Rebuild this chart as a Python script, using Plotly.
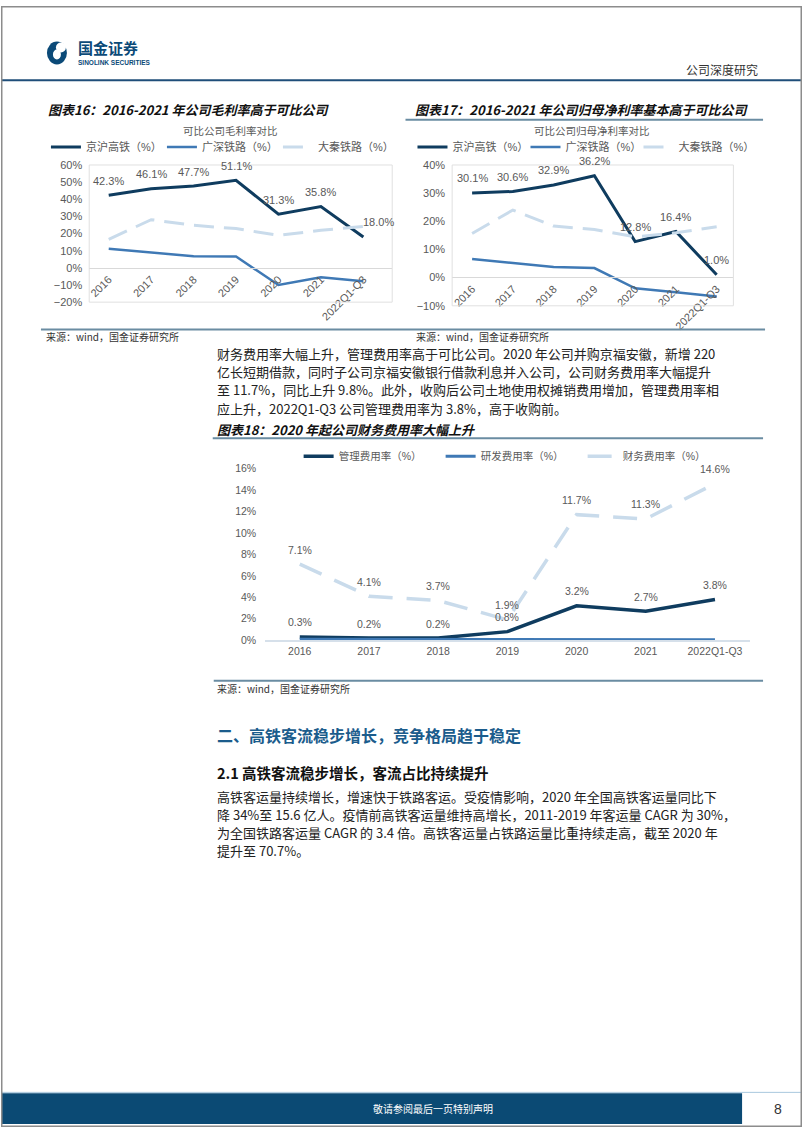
import plotly.graph_objects as go

W, H = 802, 1133
def X(px): return px / W
def Y(py): return 1 - py / H

# ---------------- data ----------------
years = ["2016", "2017", "2018", "2019", "2020", "2021", "2022Q1-Q3"]
# 图表16 毛利率
gm_jinghu = [42.3, 46.1, 47.7, 51.1, 31.3, 35.8, 18.0]
gm_guangshen = [11.1, 8.8, 6.8, 6.6, -10.0, -5.5, -7.8]
gm_daqin = [16.6, 28.1, 24.8, 22.9, 19.0, 21.9, 24.2]
# 图表17 归母净利率
np_jinghu = [30.1, 30.6, 32.9, 36.2, 12.8, 16.4, 1.0]
np_guangshen = [6.6, 5.3, 3.8, 3.4, -3.8, -5.2, -6.7]
np_daqin = [15.7, 24.0, 18.3, 17.1, 14.5, 15.9, 18.1]
# 图表18 费用率
fee_admin = [0.3, 0.2, 0.2, 0.8, 3.2, 2.7, 3.8]
fee_rd = [0.1, 0.1, 0.1, 0.1, 0.1, 0.05, 0.05]
fee_fin = [7.1, 4.1, 3.7, 1.9, 11.7, 11.3, 14.6]

names_rail = ["京沪高铁（%）", "广深铁路（%）", "大秦铁路（%）"]
names_fee = ["管理费用率（%）", "研发费用率（%）", "财务费用率（%）"]

NAVY = "#0f3c5f"
MID = "#3f79b5"
LIGHT = "#c9dbeb"
GRAY = "#595959"
CHART_FONT = "Liberation Sans, Arial, Noto Sans CJK SC"
CJK = "Noto Sans CJK SC"

fig = go.Figure()

def series(xa, ya, vals, name, color, width, dash, legend):
    fig.add_trace(go.Scatter(
        x=years, y=vals, name=name, mode="lines",
        line=dict(color=color, width=width, dash=dash),
        xaxis=xa, yaxis=ya, legend=legend, cliponaxis=False,
        hoverinfo="skip"))

# chart 16
series("x", "y", gm_jinghu, names_rail[0], NAVY, 3, "solid", "legend")
series("x", "y", gm_guangshen, names_rail[1], MID, 2.5, "solid", "legend")
series("x", "y", gm_daqin, names_rail[2], LIGHT, 3, "20px,10px", "legend")
# chart 17
series("x2", "y2", np_jinghu, names_rail[0], NAVY, 3, "solid", "legend2")
series("x2", "y2", np_guangshen, names_rail[1], MID, 2.5, "solid", "legend2")
series("x2", "y2", np_daqin, names_rail[2], LIGHT, 3, "20px,10px", "legend2")
# chart 18
series("x3", "y3", fee_admin, names_fee[0], NAVY, 3.5, "solid", "legend3")
series("x3", "y3", fee_rd, names_fee[1], MID, 3, "solid", "legend3")
series("x3", "y3", fee_fin, names_fee[2], LIGHT, 3.5, "24px,14px", "legend3")

ann = []

def data_labels(xref, yref, vals, size, xshifts=None):
    # category axes: position annotations by category index
    for i, v in enumerate(vals):
        ann.append(dict(x=i, y=v, xref=xref, yref=yref, text=f"{v:.1f}%",
                        showarrow=False, yshift=14.5,
                        xshift=(xshifts[i] if xshifts else 0),
                        font=dict(family=CHART_FONT, size=size, color=GRAY),
                        xanchor="center", yanchor="middle"))

data_labels("x", "y", gm_jinghu, 11, [0, 0, 0, 0, 0, 0, 15])
data_labels("x2", "y2", np_jinghu, 11)
data_labels("x3", "y3", fee_admin, 10.5)
data_labels("x3", "y3", fee_fin, 10.5)

def text(x, y, s, size, color="#222", family=CJK, anchor="left", valign="middle"):
    ann.append(dict(x=X(x), y=Y(y), xref="paper", yref="paper", text=s,
                    showarrow=False, xanchor=anchor, yanchor=valign, align="left",
                    font=dict(family=family, size=size, color=color)))

# header
text(75, 42, "<b>国金证券</b>", 15, "#0b4a78")
text(75, 57.5, "<b>SINOLINK SECURITIES</b>", 6.5, "#0b4a78", "Liberation Sans")
text(760, 64, "公司深度研究", 12, "#333333", CJK, "right")

# chart titles
text(45, 105, "<b><i>图表16：2016-2021 年公司毛利率高于可比公司</i></b>", 13, "#111")
text(413, 105, "<b><i>图表17：2016-2021 年公司归母净利率基本高于可比公司</i></b>", 13, "#111")
text(214, 428, "<b><i>图表18：2020 年起公司财务费用率大幅上升</i></b>", 13, "#111")
text(230, 126, "可比公司毛利率对比", 10.5, GRAY, CJK, "center")
text(591.7, 126, "可比公司归母净利率对比", 10.5, GRAY, CJK, "center")

# sources
src = "来源：wind，国金证券研究所"
text(43, 334, src, 10, "#333")
text(414, 334, src, 10, "#333")
text(214, 690, src, 10, "#333")

# paragraph 1
para1 = [
    "财务费用率大幅上升，管理费用率高于可比公司。2020 年公司并购京福安徽，新增 220",
    "亿长短期借款，同时子公司京福安徽银行借款利息并入公司，公司财务费用率大幅提升",
    "至 11.7%，同比上升 9.8%。此外，收购后公司土地使用权摊销费用增加，管理费用率相",
    "应上升，2022Q1-Q3 公司管理费用率为 3.8%，高于收购前。",
]
for i, s in enumerate(para1):
    text(214, 351.5 + 18.3 * i, s, 13, "#222")

# section headings
text(214, 737, "<b>二、高铁客流稳步增长，竞争格局趋于稳定</b>", 16, "#1b5c8c")
text(214, 775, "<b>2.1 高铁客流稳步增长，客流占比持续提升</b>", 14.5, "#111")

para2 = [
    "高铁客运量持续增长，增速快于铁路客运。受疫情影响，2020 年全国高铁客运量同比下",
    "降 34%至 15.6 亿人。疫情前高铁客运量维持高增长，2011-2019 年客运量 CAGR 为 30%，",
    "为全国铁路客运量 CAGR 的 3.4 倍。高铁客运量占铁路运量比重持续走高，截至 2020 年",
    "提升至 70.7%。",
]
for i, s in enumerate(para2):
    text(214, 798.5 + 18.3 * i, s, 13, "#222")

# footer
text(370, 1114.5, "敬请参阅最后一页特别声明", 10, "#ffffff")
text(778, 1114.5, "8", 14, "#333", "Liberation Sans", "center")

shapes = []
def hline(y, x0, x1, color, width):
    shapes.append(dict(type="line", xref="paper", yref="paper", x0=X(x0), x1=X(x1),
                       y0=Y(y), y1=Y(y), line=dict(color=color, width=width)))

hline(75, 0, 802, "#1f4e79", 2)
hline(115, 405, 763, "#6a8ca2", 2)
hline(327, 40, 765, "#6a8ca2", 2)
hline(437, 212, 763, "#6a8ca2", 2)
hline(682, 213, 763, "#6a8ca2", 2)
hline(1098, 0, 802, "#a9c8de", 1)
# plot boxes for charts 16 / 17
for (x0, x1, y0, y1) in [(88.3, 391.7, 160.7, 299.3), (451.7, 733.3, 160.7, 303.0)]:
    shapes.append(dict(type="rect", xref="paper", yref="paper", x0=X(x0), x1=X(x1),
                       y0=Y(y1), y1=Y(y0), line=dict(color="#e0e0e0", width=1)))
# footer bar
shapes.append(dict(type="rect", xref="paper", yref="paper", x0=X(0), x1=X(742),
                   y0=Y(1130), y1=Y(1099), fillcolor="#0b4a74", line=dict(width=0),
                   layer="below"))
# logo
shapes.append(dict(type="circle", xref="paper", yref="paper", x0=X(46), x1=X(66),
                   y0=Y(59), y1=Y(36), fillcolor="#0b4a78", line=dict(width=0)))
shapes.append(dict(type="circle", xref="paper", yref="paper", x0=X(55), x1=X(65),
                   y0=Y(47), y1=Y(37), fillcolor="#ffffff", line=dict(width=0)))
shapes.append(dict(type="circle", xref="paper", yref="paper", x0=X(52), x1=X(60),
                   y0=Y(54), y1=Y(44), fillcolor="#ffffff", line=dict(width=0)))
# page border
shapes.append(dict(type="rect", xref="paper", yref="paper", x0=X(0.75), x1=X(801.25),
                   y0=Y(1132.25), y1=Y(0.75), line=dict(color="#8c8c8c", width=1.5)))

tickfont11 = dict(family=CHART_FONT, size=11, color=GRAY)
tickfont10 = dict(family=CHART_FONT, size=10.5, color=GRAY)

common_x = dict(type="category", showgrid=False, zeroline=False, fixedrange=True,
                categoryorder="array", categoryarray=years)
common_y = dict(showgrid=False, zeroline=False, showline=False, ticksuffix="%",
                fixedrange=True, ticks="")

legend_common = dict(orientation="h", xanchor="left", yanchor="middle",
                     bgcolor="rgba(0,0,0,0)", entrywidthmode="pixels",
                     itemclick=False, itemdoubleclick=False)

fig.update_layout(
    width=W, height=H, margin=dict(l=0, r=0, t=0, b=0),
    paper_bgcolor="white", plot_bgcolor="rgba(0,0,0,0)",
    showlegend=True,
    xaxis=dict(**common_x, domain=[X(88.3), X(391.7)], range=[-0.46, 6.68],
               anchor="free", position=Y(264.7), showline=True, linecolor="#d9d9d9",
               linewidth=1, ticks="", tickangle=-45, tickfont=tickfont11),
    yaxis=dict(**common_y, domain=[Y(299.3), Y(160.7)], range=[-20, 60], dtick=10,
               anchor="x", tickfont=tickfont11, ticklabelstandoff=6),
    xaxis2=dict(**common_x, domain=[X(451.7), X(733.3)], range=[-0.49, 6.41],
                anchor="free", position=Y(274.3), showline=True, linecolor="#d9d9d9",
                linewidth=1, ticks="", tickangle=-45, tickfont=tickfont11),
    yaxis2=dict(**common_y, domain=[Y(303.0), Y(160.7)], range=[-10, 40], dtick=10,
                anchor="x2", tickfont=tickfont11, ticklabelstandoff=6),
    xaxis3=dict(**common_x, domain=[X(264.5), X(749.5)], range=[-0.5, 6.5],
                anchor="y3", showline=True, linecolor="#d6e0ea", linewidth=1.5,
                ticks="", tickfont=tickfont10),
    yaxis3=dict(**common_y, domain=[Y(641), Y(467.5)], range=[0, 16], dtick=2,
                anchor="x3", tickfont=tickfont10, ticklabelstandoff=8),
    legend=dict(**legend_common, x=X(45), y=Y(142.5), entrywidth=71,
                font=dict(family=CHART_FONT, size=11, color=GRAY)),
    legend2=dict(**legend_common, x=X(412), y=Y(142.5), entrywidth=68,
                 font=dict(family=CHART_FONT, size=11, color=GRAY)),
    legend3=dict(**legend_common, x=X(298), y=Y(455), entrywidth=97,
                 font=dict(family=CHART_FONT, size=10.5, color=GRAY)),
    annotations=ann,
    shapes=shapes,
)

fig.write_html("out.html", config={"displayModeBar": False},
               post_script="document.body.style.margin='0';document.body.style.overflow='hidden';")
